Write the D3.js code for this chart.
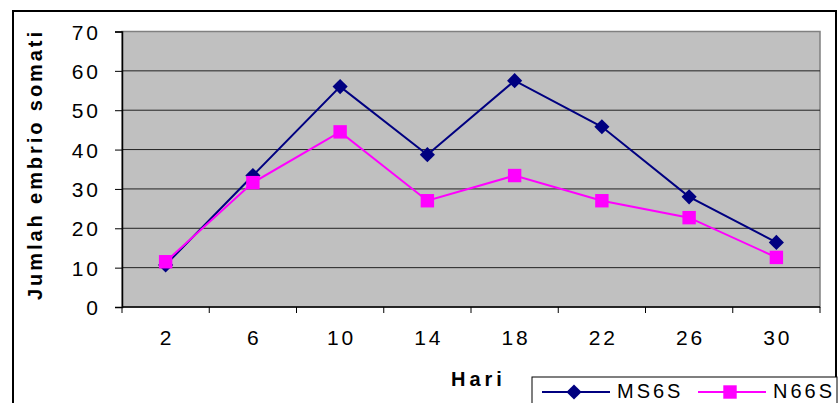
<!DOCTYPE html>
<html>
<head>
<meta charset="utf-8">
<script src="https://cdn.jsdelivr.net/npm/d3@7"></script>
<style>
  body { margin: 0; background: #fff; }
  svg { display: block; font-family: "Liberation Sans", Arial, sans-serif; }
</style>
</head>
<body>
<div id="chart"></div>
<script>
// data
const days = ["2", "6", "10", "14", "18", "22", "26", "30"];
const ms6s = [10.7, 33.4, 56, 38.7, 57.5, 45.8, 28, 16.4];
const n66s = [11.5, 31.6, 44.5, 27, 33.4, 27, 22.7, 12.6];
const yTicks = [0, 10, 20, 30, 40, 50, 60, 70];

const width = 840, height = 403;
const margin = {top: 31.5, right: 20, bottom: 96, left: 122};
const plotW = width - margin.left - margin.right;
const plotH = height - margin.top - margin.bottom;

const svg = d3.select("#chart").append("svg")
    .attr("width", width)
    .attr("height", height);

// outer chart border
svg.append("rect")
    .attr("x", 13).attr("y", 11)
    .attr("width", 823).attr("height", 400)
    .attr("fill", "none")
    .attr("stroke", "#000")
    .attr("stroke-width", 2);

const g = svg.append("g").attr("transform", `translate(${margin.left},${margin.top})`);

const x = d3.scaleBand().domain(days).range([0, plotW]);
const y = d3.scaleLinear().domain([0, 70]).range([plotH, 0]);

// plot area
g.append("rect")
    .attr("width", plotW).attr("height", plotH)
    .attr("fill", "#c0c0c0")
    .attr("stroke", "#808080")
    .attr("stroke-width", 1.5);

// gridlines
g.selectAll(".grid")
    .data(yTicks.filter(d => d > 0 && d < 70))
    .join("line")
    .attr("x1", 0).attr("x2", plotW)
    .attr("y1", d => y(d)).attr("y2", d => y(d))
    .attr("stroke", "#222")
    .attr("stroke-width", 1);

// y axis
const yAxis = g.append("g")
    .call(d3.axisLeft(y).tickValues(yTicks).tickSize(7).tickPadding(14));
yAxis.select(".domain").attr("stroke", "#000").attr("stroke-width", 1.5);
yAxis.selectAll(".tick line").attr("stroke", "#000");
yAxis.selectAll("text")
    .attr("font-size", 21)
    .attr("letter-spacing", 3)
    .attr("fill", "#000")
    .attr("dy", "0.36em")
    .attr("font-family", "Liberation Sans, Arial, sans-serif");

// x axis, ticks on band boundaries
const xAxisG = g.append("g").attr("transform", `translate(0,${plotH})`);
xAxisG.append("line")
    .attr("x1", 0).attr("x2", plotW)
    .attr("stroke", "#000").attr("stroke-width", 1.5);
xAxisG.selectAll(".xtick")
    .data(days.concat(["end"]))
    .join("line")
    .attr("x1", (d, i) => i * x.bandwidth())
    .attr("x2", (d, i) => i * x.bandwidth())
    .attr("y1", 0).attr("y2", 6)
    .attr("stroke", "#000");
xAxisG.selectAll(".xlabel")
    .data(days)
    .join("text")
    .attr("x", d => x(d) + x.bandwidth() / 2 + 1.5)
    .attr("y", 38)
    .attr("text-anchor", "middle")
    .attr("font-size", 21)
    .attr("letter-spacing", 3)
    .text(d => d);

// axis titles
svg.append("text")
    .attr("x", 451).attr("y", 386)
    .attr("font-size", 20)
    .attr("font-weight", "bold")
    .attr("letter-spacing", 4)
    .text("Hari");

svg.append("text")
    .attr("transform", "translate(42,300) rotate(-90)")
    .attr("font-size", 20)
    .attr("font-weight", "bold")
    .attr("textLength", 268)
    .attr("lengthAdjust", "spacing")
    .text("Jumlah embrio somati");

// series
const series = [
    {name: "MS6S", values: ms6s, color: "#000080", symbol: d3.symbolSquare, size: 115, rotate: 45},
    {name: "N66S", values: n66s, color: "#ff00ff", symbol: d3.symbolSquare, size: 180, rotate: 0}
];

const line = d3.line()
    .x((d, i) => x(days[i]) + x.bandwidth() / 2)
    .y(d => y(d));

series.forEach(s => {
    g.append("path")
        .datum(s.values)
        .attr("fill", "none")
        .attr("stroke", s.color)
        .attr("stroke-width", 2)
        .attr("d", line);

    g.selectAll(null)
        .data(s.values)
        .join("path")
        .attr("transform", (d, i) => `translate(${x(days[i]) + x.bandwidth() / 2},${y(d)}) rotate(${s.rotate})`)
        .attr("d", d3.symbol().type(s.symbol).size(s.size))
        .attr("fill", s.color);
});

// legend
const legend = svg.append("g");
legend.append("rect")
    .attr("x", 532).attr("y", 377)
    .attr("width", 305).attr("height", 40)
    .attr("fill", "#fff")
    .attr("stroke", "#000")
    .attr("stroke-width", 1);

series.forEach((s, i) => {
    let lx = 542 + i * 156;
    legend.append("line")
        .attr("x1", lx).attr("x2", lx + 68)
        .attr("y1", 392).attr("y2", 392)
        .attr("stroke", s.color).attr("stroke-width", 2);
    legend.append("path")
        .attr("transform", `translate(${lx + 32},392) rotate(${s.rotate})`)
        .attr("d", d3.symbol().type(s.symbol).size(s.size))
        .attr("fill", s.color);
    legend.append("text")
        .attr("x", lx + 75).attr("y", 398)
        .attr("font-size", 20)
        .attr("letter-spacing", 3)
        .text(s.name);
});
</script>
</body>
</html>
